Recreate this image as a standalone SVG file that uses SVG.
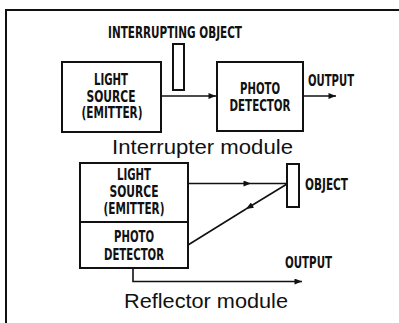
<svg xmlns="http://www.w3.org/2000/svg" width="399" height="323" viewBox="0 0 399 323">
<style>
.box{fill:#fff;stroke:#111;stroke-width:2}
.ln{fill:none;stroke:#111;stroke-width:1.6}
.lbl{font-family:"Liberation Sans Narrow","DejaVu Sans Condensed","Liberation Sans",sans-serif;font-size:15px;font-weight:bold;fill:#111;text-anchor:middle}
.lbs{font-family:"Liberation Sans Narrow","DejaVu Sans Condensed","Liberation Sans",sans-serif;font-size:15px;font-weight:bold;fill:#111}
.ttl{font-family:"Liberation Sans",Arial,sans-serif;font-size:20.5px;fill:#111}
</style>
<defs>
<marker id="ah" viewBox="0 0 10 8" refX="10" refY="4" markerWidth="8" markerHeight="6" markerUnits="userSpaceOnUse" orient="auto">
<path d="M0,0 L10,4 L0,8 z" fill="#111"/>
</marker>
</defs>
<rect width="399" height="323" fill="#fff"/>
<path d="M6,323 V10 H399" fill="none" stroke="#111" stroke-width="2"/>

<g id="interrupting-object">
<text class="lbs" x="108" y="38" textLength="134" lengthAdjust="spacingAndGlyphs">INTERRUPTING OBJECT</text>
<rect class="box" x="173" y="44" width="11" height="46"/>
</g>
<g id="light-source-1">
<rect class="box" x="62" y="62" width="99" height="70"/>
<text class="lbl" x="111" y="84.5" textLength="34" lengthAdjust="spacingAndGlyphs">LIGHT</text>
<text class="lbl" x="111" y="101.5" textLength="49" lengthAdjust="spacingAndGlyphs">SOURCE</text>
<text class="lbl" x="112" y="118" textLength="61" lengthAdjust="spacingAndGlyphs">(EMITTER)</text>
</g>
<g id="photo-detector-1">
<rect class="box" x="217" y="62" width="86" height="69"/>
<text class="lbl" x="260" y="94" textLength="40" lengthAdjust="spacingAndGlyphs">PHOTO</text>
<text class="lbl" x="260" y="111" textLength="61" lengthAdjust="spacingAndGlyphs">DETECTOR</text>
</g>
<g id="output-1">
<text class="lbs" x="308" y="85.5" textLength="46" lengthAdjust="spacingAndGlyphs">OUTPUT</text>
</g>
<text class="ttl" x="112" y="153.5" textLength="181" lengthAdjust="spacingAndGlyphs">Interrupter module</text>

<g id="reflector-unit">
<rect class="box" x="80" y="163" width="108" height="105"/>
<line x1="80" y1="222" x2="188" y2="222" stroke="#111" stroke-width="2"/>
<text class="lbl" x="134" y="180" textLength="34" lengthAdjust="spacingAndGlyphs">LIGHT</text>
<text class="lbl" x="134" y="197" textLength="49" lengthAdjust="spacingAndGlyphs">SOURCE</text>
<text class="lbl" x="134" y="213.5" textLength="61" lengthAdjust="spacingAndGlyphs">(EMITTER)</text>
<text class="lbl" x="134" y="242" textLength="40" lengthAdjust="spacingAndGlyphs">PHOTO</text>
<text class="lbl" x="134" y="259.5" textLength="60" lengthAdjust="spacingAndGlyphs">DETECTOR</text>
</g>
<g id="object-2">
<rect class="box" x="287" y="164" width="12" height="43"/>
<text class="lbs" x="305" y="190" textLength="43" lengthAdjust="spacingAndGlyphs">OBJECT</text>
</g>
<g id="output-2">
<text class="lbs" x="285" y="267.5" textLength="47" lengthAdjust="spacingAndGlyphs">OUTPUT</text>
</g>
<text class="ttl" x="124" y="307.5" textLength="164" lengthAdjust="spacingAndGlyphs">Reflector module</text>

<g id="connectors">
<line class="ln" x1="161" y1="96" x2="216" y2="96" marker-end="url(#ah)"/>
<line class="ln" x1="303" y1="96" x2="336" y2="96" marker-end="url(#ah)"/>
<line class="ln" x1="188" y1="183.5" x2="251" y2="183.5" marker-end="url(#ah)"/>
<line class="ln" x1="251" y1="183.5" x2="287" y2="183.5"/>
<line class="ln" x1="287" y1="184" x2="246" y2="209" marker-end="url(#ah)"/>
<line class="ln" x1="246" y1="209" x2="188" y2="245"/>
<polyline class="ln" points="133,268 133,281.5 302,281.5" marker-end="url(#ah)"/>
</g>
</svg>
